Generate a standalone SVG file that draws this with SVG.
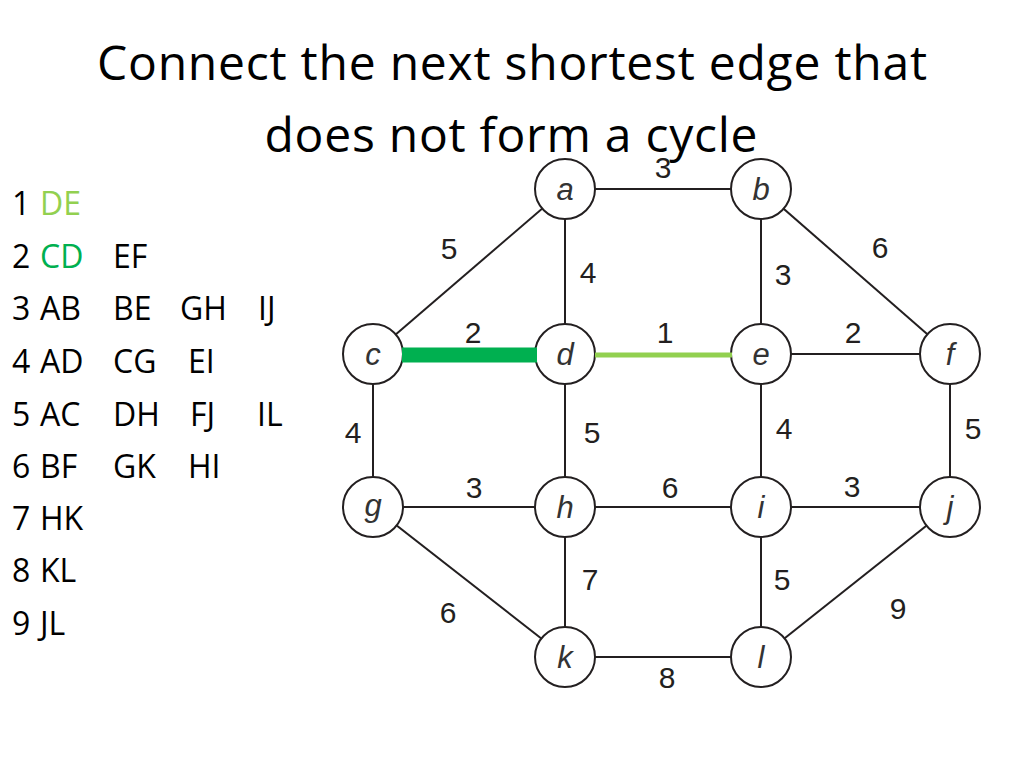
<svg xmlns="http://www.w3.org/2000/svg" width="1024" height="768" viewBox="0 0 1024 768">
<style>
.title{font-family:"Open Sans","Liberation Sans",sans-serif;font-size:48px;fill:#000;text-anchor:middle}
.list{font-family:"Open Sans","Liberation Sans",sans-serif;font-size:32px;fill:#000}
.edge{stroke:#231f20;stroke-width:2;fill:none}
.w{font-family:"Liberation Sans",Arial,sans-serif;font-size:30px;fill:#231f20;text-anchor:middle}
.node circle{fill:#fff;stroke:#231f20;stroke-width:2}
.node text{font-family:"Liberation Sans",Arial,sans-serif;font-style:italic;font-size:31px;fill:#333;text-anchor:middle}
</style>
<rect width="1024" height="768" fill="#fff"/>
<text class="title" x="512" y="80" textLength="830">Connect the next shortest edge that</text>
<text class="title" x="511" y="152" textLength="493">does not form a cycle</text>
<g id="list">
<text class="list" x="12" y="215">1 <tspan x="40" fill="#92d050">DE</tspan></text>
<text class="list" x="12" y="268">2 <tspan x="40" fill="#00b050">CD</tspan><tspan x="113">EF</tspan></text>
<text class="list" x="12" y="320">3 <tspan x="40">AB</tspan><tspan x="113">BE</tspan><tspan x="180">GH</tspan><tspan x="258">IJ</tspan></text>
<text class="list" x="12" y="373">4 <tspan x="40">AD</tspan><tspan x="113">CG</tspan><tspan x="188">EI</tspan></text>
<text class="list" x="12" y="426">5 <tspan x="40">AC</tspan><tspan x="113">DH</tspan><tspan x="190">FJ</tspan><tspan x="257">IL</tspan></text>
<text class="list" x="12" y="478">6 <tspan x="40">BF</tspan><tspan x="113">GK</tspan><tspan x="188">HI</tspan></text>
<text class="list" x="12" y="530">7 <tspan x="40">HK</tspan></text>
<text class="list" x="12" y="582">8 <tspan x="40">KL</tspan></text>
<text class="list" x="12" y="635">9 <tspan x="40">JL</tspan></text>
</g>
<g id="connectors">
<line class="edge" x1="565" y1="189" x2="761" y2="189"/>
<line class="edge" x1="565" y1="189" x2="373" y2="354"/>
<line class="edge" x1="565" y1="189" x2="565" y2="354"/>
<line class="edge" x1="761" y1="189" x2="761" y2="354"/>
<line class="edge" x1="761" y1="189" x2="950" y2="354"/>
<line class="edge" x1="761" y1="354" x2="950" y2="354"/>
<line class="edge" x1="373" y1="354" x2="373" y2="507"/>
<line class="edge" x1="565" y1="354" x2="565" y2="507"/>
<line class="edge" x1="761" y1="354" x2="761" y2="507"/>
<line class="edge" x1="950" y1="354" x2="950" y2="507"/>
<line class="edge" x1="373" y1="507" x2="950" y2="507"/>
<line class="edge" x1="373" y1="507" x2="565" y2="657"/>
<line class="edge" x1="565" y1="507" x2="565" y2="657"/>
<line class="edge" x1="761" y1="507" x2="761" y2="657"/>
<line class="edge" x1="950" y1="507" x2="761" y2="657"/>
<line class="edge" x1="565" y1="657" x2="761" y2="657"/>
<g id="weights">
<text class="w" x="663" y="178">3</text>
<text class="w" x="449" y="259">5</text>
<text class="w" x="588" y="283">4</text>
<text class="w" x="783" y="285">3</text>
<text class="w" x="880" y="258">6</text>
<text class="w" x="473" y="343">2</text>
<text class="w" x="665" y="343">1</text>
<text class="w" x="853" y="343">2</text>
<text class="w" x="353" y="443">4</text>
<text class="w" x="592" y="443">5</text>
<text class="w" x="784" y="439">4</text>
<text class="w" x="973" y="439">5</text>
<text class="w" x="474" y="498">3</text>
<text class="w" x="670" y="498">6</text>
<text class="w" x="852" y="497">3</text>
<text class="w" x="590" y="590">7</text>
<text class="w" x="782" y="590">5</text>
<text class="w" x="448" y="623">6</text>
<text class="w" x="898" y="619">9</text>
<text class="w" x="667" y="688">8</text>
</g>
</g>
<g id="node-a" class="node"><circle cx="565" cy="189" r="30"/><text x="565" y="200">a</text></g>
<g id="node-b" class="node"><circle cx="761" cy="189" r="30"/><text x="761" y="200">b</text></g>
<g id="node-c" class="node"><circle cx="373" cy="354" r="30"/><text x="373" y="365">c</text></g>
<g id="node-d" class="node"><circle cx="565" cy="354" r="30"/><text x="565" y="365">d</text></g>
<g id="node-e" class="node"><circle cx="761" cy="354" r="30"/><text x="761" y="365">e</text></g>
<g id="node-f" class="node"><circle cx="950" cy="354" r="30"/><text x="950" y="365">f</text></g>
<g id="node-g" class="node"><circle cx="373" cy="507" r="30"/><text x="373" y="516">g</text></g>
<g id="node-h" class="node"><circle cx="565" cy="507" r="30"/><text x="565" y="518">h</text></g>
<g id="node-i" class="node"><circle cx="761" cy="507" r="30"/><text x="761" y="518">i</text></g>
<g id="node-j" class="node"><circle cx="950" cy="507" r="30"/><text x="950" y="518">j</text></g>
<g id="node-k" class="node"><circle cx="565" cy="657" r="30"/><text x="565" y="668">k</text></g>
<g id="node-l" class="node"><circle cx="761" cy="657" r="30"/><text x="761" y="668">l</text></g>
<g id="highlighted-connectors">
<line x1="402" y1="355" x2="537" y2="355" stroke="#00b050" stroke-width="15"/>
<line x1="595" y1="355" x2="732" y2="355" stroke="#92d050" stroke-width="5"/>
</g>
</svg>
